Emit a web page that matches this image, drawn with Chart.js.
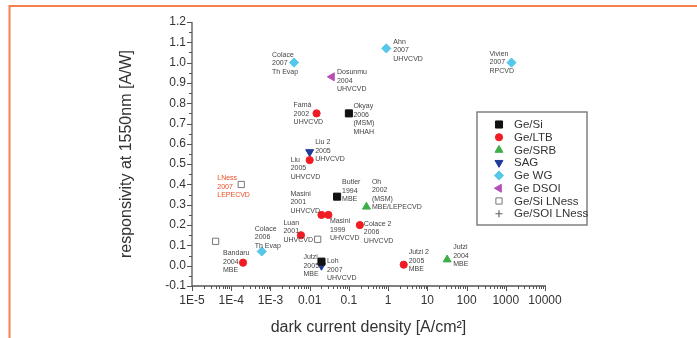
<!DOCTYPE html>
<html>
<head>
<meta charset="utf-8">
<script src="https://cdn.jsdelivr.net/npm/chart.js@4.4.1/dist/chart.umd.min.js"></script>
<style>
  html, body { margin: 0; padding: 0; background: #ffffff; }
  #wrap { position: relative; width: 697px; height: 338px; }
</style>
</head>
<body>
<div id="wrap"><canvas id="chart" width="697" height="338"></canvas></div>
<script>
// Axis ticks
const xTickValues = [1e-5, 1e-4, 1e-3, 0.01, 0.1, 1, 10, 100, 1000, 10000];
const xTickLabels = ['1E-5', '1E-4', '1E-3', '0.01', '0.1', '1', '10', '100', '1000', '10000'];
const yTickValues = [-0.1, 0, 0.1, 0.2, 0.3, 0.4, 0.5, 0.6, 0.7, 0.8, 0.9, 1.0, 1.1, 1.2];
const yTickLabels = ['-0.1', '0.0', '0.1', '0.2', '0.3', '0.4', '0.5', '0.6', '0.7', '0.8', '0.9', '1.0', '1.1', '1.2'];

// Series: dark current density [A/cm2], responsivity [A/W], annotation
const geSiX = [0.1, 0.05, 0.02];
const geSiY = [0.75, 0.34, 0.02];
const geSiNotes = ['Okyay\n2006\n(MSM)\nMHAH', 'Butler\n1994\nMBE', 'Jutzi\n2005\nMBE'];

const geLtbX = [0.015, 0.01, 0.02, 0.03, 0.19, 0.006, 2e-4, 2.5];
const geLtbY = [0.75, 0.52, 0.25, 0.25, 0.2, 0.15, 0.015, 0.005];
const geLtbNotes = ['Famà\n2002\nUHVCVD', 'Liu\n2005\nUHVCVD', 'Masini\n2001\nUHVCVD', 'Masini\n1999\nUHVCVD',
                    'Colace 2\n2006\nUHVCVD', 'Luan\n2001\nUHVCVD', 'Bandaru\n2004\nMBE', 'Jutzi 2\n2005\nMBE'];

const geSrbX = [0.28, 32];
const geSrbY = [0.29, 0.03];
const geSrbNotes = ['Oh\n2002\n(MSM)\nMBE/LEPECVD', 'Jutzi\n2004\nMBE'];

const sagX = [0.01, 0.02];
const sagY = [0.56, 0.0];
const sagNotes = ['Liu 2\n2005\nUHVCVD', 'Loh\n2007\nUHVCVD'];

const geWgX = [0.004, 6e-4, 0.9, 1400];
const geWgY = [1.0, 0.07, 1.07, 1.0];
const geWgNotes = ['Colace\n2007\nTh Evap', 'Colace\n2006\nTh Evap', 'Ahn\n2007\nUHVCVD', 'Vivien\n2007\nRPCVD'];

const geDsoiX = [0.037];
const geDsoiY = [0.93];
const geDsoiNotes = ['Dosunmu\n2004\nUHVCVD'];

const geSiLnessX = [1.8e-4, 4e-5, 0.016];
const geSiLnessY = [0.40, 0.12, 0.13];
const geSiLnessNotes = ['LNess\n2007\nLEPECVD', '', ''];

const geSoiLnessX = [];
const geSoiLnessY = [];
const geSoiLnessNotes = [];

// Annotation placement: [dx, dy] from the marker to the first text line (px)
const geSiNoteAt = [[4.5, -7], [5, -14.5], [-18, -4.5]];
const geLtbNoteAt = [[-23, -8], [-19, -0.5], [-31, -21], [1.5, 6.5], [4, -1.5], [-17.5, -12.5], [-20, -9.5], [5, -12.5]];
const geSrbNoteAt = [[5.5, -25], [6, -12.5]];
const sagNoteAt = [[5.5, -9.5], [5.5, -4.5]];
const geWgNoteAt = [[-22, -8], [-7, -22.5], [7, -6.5], [-22, -9]];
const geDsoiNoteAt = [[5, -4.5]];
const geSiLnessNoteAt = [[-24, -6], [0, 0], [0, 0]];
const geSoiLnessNoteAt = [];

const FONT = '"Liberation Sans", Arial, Helvetica, sans-serif';

function points(xs, ys) {
  return xs.map((x, i) => ({ x: x, y: ys[i] }));
}

const datasets = [
  { label: 'Ge/Si', data: points(geSiX, geSiY), notes: geSiNotes, noteAt: geSiNoteAt,
    pointStyle: 'rect', pointRadius: 5, backgroundColor: '#111111', borderColor: '#111111', borderWidth: 1 },
  { label: 'Ge/LTB', data: points(geLtbX, geLtbY), notes: geLtbNotes, noteAt: geLtbNoteAt,
    pointStyle: 'circle', pointRadius: 3.6, backgroundColor: '#f01c24', borderColor: '#f01c24', borderWidth: 1 },
  { label: 'Ge/SRB', data: points(geSrbX, geSrbY), notes: geSrbNotes, noteAt: geSrbNoteAt,
    pointStyle: 'triangle', pointRadius: 4.6, backgroundColor: '#3fae49', borderColor: '#3fae49', borderWidth: 1 },
  { label: 'SAG', data: points(sagX, sagY), notes: sagNotes, noteAt: sagNoteAt,
    pointStyle: 'triangle', pointRotation: 180, pointRadius: 4.6, backgroundColor: '#1f3b9b', borderColor: '#1f3b9b', borderWidth: 1 },
  { label: 'Ge WG', data: points(geWgX, geWgY), notes: geWgNotes, noteAt: geWgNoteAt,
    pointStyle: 'rectRot', pointRadius: 4.6, backgroundColor: '#55c8ea', borderColor: '#55c8ea', borderWidth: 1 },
  { label: 'Ge DSOI', data: points(geDsoiX, geDsoiY), notes: geDsoiNotes, noteAt: geDsoiNoteAt,
    pointStyle: 'triangle', pointRotation: 270, pointRadius: 4.6, backgroundColor: '#b44fb8', borderColor: '#b44fb8', borderWidth: 1 },
  { label: 'Ge/Si LNess', data: points(geSiLnessX, geSiLnessY), notes: geSiLnessNotes, noteAt: geSiLnessNoteAt,
    noteColor: '#ef4b26',
    pointStyle: 'rect', pointRadius: 4.4, backgroundColor: '#ffffff', borderColor: '#777777', borderWidth: 1 },
  { label: 'Ge/SOI LNess', data: points(geSoiLnessX, geSoiLnessY), notes: geSoiLnessNotes, noteAt: geSoiLnessNoteAt,
    pointStyle: 'cross', pointRadius: 3.6, backgroundColor: '#666666', borderColor: '#666666', borderWidth: 1.2 }
];

function markerOptions(ds) {
  return {
    pointStyle: ds.pointStyle,
    rotation: ds.pointRotation || 0,
    radius: ds.pointRadius,
    borderWidth: ds.borderWidth
  };
}

// Page border, axis lines with major/minor ticks, point annotations and the key box
const decorations = {
  id: 'decorations',
  beforeDraw(chart) {
    const ctx = chart.ctx;
    ctx.save();
    ctx.strokeStyle = '#f5804d';
    ctx.lineWidth = 2;
    ctx.beginPath();
    ctx.moveTo(9.5, 338);
    ctx.lineTo(9.5, 6);
    ctx.lineTo(697, 6);
    ctx.stroke();
    ctx.restore();
  },
  afterDraw(chart) {
    const ctx = chart.ctx;
    const xs = chart.scales.x, ys = chart.scales.y;
    const area = chart.chartArea;
    ctx.save();
    ctx.strokeStyle = '#555555';
    ctx.lineWidth = 1.3;
    ctx.beginPath();
    ctx.moveTo(area.left, area.top);
    ctx.lineTo(area.left, area.bottom);
    ctx.lineTo(area.right + 1, area.bottom);
    ctx.stroke();

    ctx.lineWidth = 1;
    ctx.beginPath();
    // y ticks: major every 0.1, minor halfway
    for (let i = 0; i < yTickValues.length; i++) {
      const py = Math.round(ys.getPixelForValue(yTickValues[i])) + 0.5;
      ctx.moveTo(area.left, py); ctx.lineTo(area.left - 5, py);
      if (i < yTickValues.length - 1) {
        const pm = Math.round(ys.getPixelForValue((yTickValues[i] + yTickValues[i + 1]) / 2)) + 0.5;
        ctx.moveTo(area.left, pm); ctx.lineTo(area.left - 3, pm);
      }
    }
    // x ticks: decades and 2..9 in between
    for (let i = 0; i < xTickValues.length; i++) {
      const px = Math.round(xs.getPixelForValue(xTickValues[i])) + 0.5;
      ctx.moveTo(px, area.bottom); ctx.lineTo(px, area.bottom + 5);
      if (i < xTickValues.length - 1) {
        for (let m = 2; m <= 9; m++) {
          const pm = Math.round(xs.getPixelForValue(xTickValues[i] * m)) + 0.5;
          ctx.moveTo(pm, area.bottom); ctx.lineTo(pm, area.bottom + 3);
        }
      }
    }
    ctx.stroke();

    // annotations beside the markers
    ctx.font = '7px ' + FONT;
    ctx.textAlign = 'left';
    ctx.textBaseline = 'middle';
    chart.data.datasets.forEach((ds, di) => {
      const meta = chart.getDatasetMeta(di);
      meta.data.forEach((el, i) => {
        const note = ds.notes[i];
        if (!note) return;
        const off = ds.noteAt[i];
        ctx.fillStyle = ds.noteColor || '#444444';
        note.split('\n').forEach((line, k) => {
          ctx.fillText(line, el.x + off[0], el.y + off[1] + k * 8.5);
        });
      });
    });

    // key box
    const bx = 477, by = 112, bw = 110, bh = 113;
    ctx.fillStyle = '#ffffff';
    ctx.fillRect(bx, by, bw, bh);
    ctx.strokeStyle = '#777777';
    ctx.lineWidth = 1.4;
    ctx.strokeRect(bx, by, bw, bh);
    ctx.font = '11.5px ' + FONT;
    ctx.textBaseline = 'middle';
    chart.data.datasets.forEach((ds, di) => {
      const ry = 124.5 + di * 12.75;
      ctx.fillStyle = ds.backgroundColor;
      ctx.strokeStyle = ds.borderColor;
      ctx.lineWidth = ds.borderWidth;
      Chart.helpers.drawPoint(ctx, markerOptions(ds), 499, ry);
      ctx.fillStyle = '#333333';
      ctx.fillText(ds.label, 514, ry + 0.5);
    });
    ctx.restore();
  }
};

new Chart(document.getElementById('chart'), {
  type: 'scatter',
  data: { datasets: datasets },
  options: {
    responsive: false,
    devicePixelRatio: 1,
    animation: false,
    layout: { padding: { left: 113, right: 152, top: 22, bottom: 0 } },
    plugins: { legend: { display: false }, tooltip: { enabled: false } },
    scales: {
      x: {
        type: 'logarithmic',
        min: 1e-5,
        max: 1e4,
        afterBuildTicks: (s) => { s.ticks = xTickValues.map(v => ({ value: v })); },
        afterFit: (s) => { s.height = 52; },
        ticks: {
          callback: (v, i) => xTickLabels[i],
          autoSkip: false, maxRotation: 0, padding: 7,
          color: '#333333', font: { family: FONT, size: 12 }
        },
        grid: { display: false, drawTicks: false },
        border: { display: false },
        title: {
          display: true, text: 'dark current density [A/cm²]',
          color: '#333333', font: { family: FONT, size: 16 }, padding: { top: 2, bottom: 1 }
        }
      },
      y: {
        type: 'linear',
        min: -0.1,
        max: 1.2,
        afterBuildTicks: (s) => { s.ticks = yTickValues.map(v => ({ value: v })); },
        afterFit: (s) => { s.width = 79; },
        ticks: {
          callback: (v, i) => yTickLabels[i],
          autoSkip: false, padding: 6,
          color: '#333333', font: { family: FONT, size: 12 }
        },
        grid: { display: false, drawTicks: false },
        border: { display: false },
        title: {
          display: true, text: 'responsivity at 1550nm [A/W]',
          color: '#333333', font: { family: FONT, size: 16 }, padding: { top: 4, bottom: 4 }
        }
      }
    }
  },
  plugins: [decorations]
});
</script>
</body>
</html>
